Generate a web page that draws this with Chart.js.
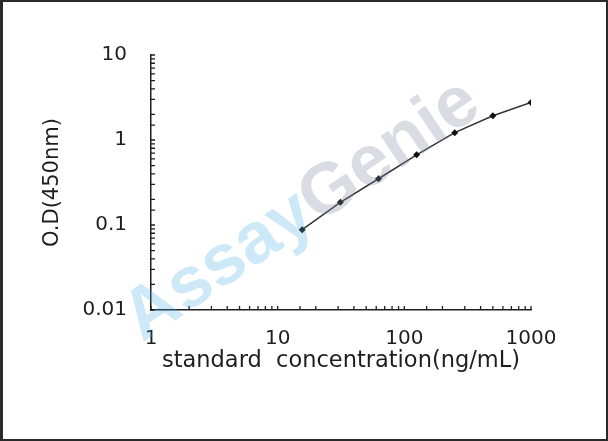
<!DOCTYPE html>
<html><head><meta charset="utf-8">
<script src="https://cdn.jsdelivr.net/npm/chart.js@4.4.0/dist/chart.umd.min.js"></script>
<style>html,body{margin:0;padding:0;background:#fff;overflow:hidden}canvas{display:block}</style>
</head><body>
<canvas id="c" width="608" height="441"></canvas>
<script>
const concentrations = [15.625, 31.25, 62.5, 125, 250, 500, 1000];
const odValues = [0.088, 0.185, 0.35, 0.67, 1.22, 1.93, 2.77];
const xTickLabels = [1, 10, 100, 1000];
const yTickLabels = [0.01, 0.1, 1, 10];
const xTitle = 'standard  concentration(ng/mL)';
const yTitle = 'O.D(450nm)';
const watermarkParts = ['Assay', 'Genie'];

const points = concentrations.map((c, i) => ({x: c, y: odValues[i]}));
const ink = '#1e1e1e';
const fam = "'DejaVu Sans', sans-serif";

function labelFor(list) {
  return function(value) {
    const hit = list.find(v => Math.abs(v - value) / v < 1e-6);
    return hit === undefined ? '' : String(hit);
  };
}

const inwardTicks = {
  id: 'inwardTicks',
  afterDatasetsDraw(chart) {
    const ctx = chart.ctx, a = chart.chartArea;
    const xs = chart.scales.x, ys = chart.scales.y;
    ctx.save();
    ctx.strokeStyle = ink;
    ctx.lineWidth = 1.3;
    ctx.beginPath();
    xs.ticks.forEach(t => {
      const px = xs.getPixelForValue(t.value);
      ctx.moveTo(px, a.bottom);
      ctx.lineTo(px, a.bottom - 4);
    });
    ys.ticks.forEach(t => {
      const py = ys.getPixelForValue(t.value);
      ctx.moveTo(a.left, py);
      ctx.lineTo(a.left + 4, py);
    });
    ctx.stroke();
    ctx.restore();
  }
};

const watermark = {
  id: 'watermark',
  afterDraw(chart) {
    const ctx = chart.ctx;
    ctx.save();
    ctx.translate(302, 211);
    ctx.rotate(-34 * Math.PI / 180);
    ctx.font = "bold 72px 'Liberation Sans', Arial, sans-serif";
    ctx.textBaseline = 'middle';
    ctx.textAlign = 'left';
    const w0 = ctx.measureText(watermarkParts[0]).width;
    const w1 = ctx.measureText(watermarkParts[1]).width;
    let x = -(w0 + w1) / 2;
    ctx.fillStyle = 'rgba(70,175,225,0.27)';
    ctx.fillText(watermarkParts[0], x, 0);
    ctx.fillStyle = 'rgba(130,140,158,0.3)';
    ctx.fillText(watermarkParts[1], x + w0, 0);
    ctx.restore();
  }
};

const frame = {
  id: 'frame',
  afterDraw(chart) {
    const ctx = chart.ctx, W = chart.width, H = chart.height;
    ctx.save();
    ctx.fillStyle = '#2a2a2a';
    ctx.fillRect(0, 0, 3, H);
    ctx.fillRect(0, 0, W, 2);
    ctx.fillRect(W - 2, 0, 2, H);
    ctx.fillRect(0, H - 2, W, 2);
    ctx.restore();
  }
};

new Chart(document.getElementById('c'), {
  type: 'line',
  data: {
    datasets: [{
      data: points,
      borderColor: '#333',
      borderWidth: 1.5,
      pointStyle: 'rectRot',
      pointRadius: 3.5,
      pointBackgroundColor: '#111',
      pointBorderColor: '#111',
      pointBorderWidth: 0,
      tension: 0,
      fill: false
    }]
  },
  options: {
    responsive: false,
    animation: false,
    events: [],
    layout: {padding: {left: 20, right: 77, top: 55, bottom: 51}},
    plugins: {legend: {display: false}, tooltip: {enabled: false}},
    scales: {
      x: {
        type: 'logarithmic', position: 'bottom', min: 1, max: 1000,
        grid: {display: false, drawTicks: false},
        border: {display: true, color: ink, width: 1.5},
        ticks: {autoSkip: false, maxRotation: 0, padding: 17, color: ink,
                font: {family: fam, size: 20}, callback: labelFor(xTickLabels)},
        title: {display: true, text: xTitle, color: ink,
                font: {family: fam, size: 22.5}, padding: {top: 0, bottom: 15}},
        afterFit(s) { s.height = 80; }
      },
      y: {
        type: 'logarithmic', position: 'left', min: 0.01, max: 10,
        grid: {display: false, drawTicks: false},
        border: {display: true, color: ink, width: 1.5},
        ticks: {autoSkip: false, padding: 24, color: ink,
                font: {family: fam, size: 20}, callback: labelFor(yTickLabels)},
        title: {display: true, text: yTitle, color: ink,
                font: {family: fam, size: 21}, padding: {top: 20, bottom: 0}},
        afterFit(s) { s.width = 131; }
      }
    }
  },
  plugins: [inwardTicks, watermark, frame]
});
</script>
</body></html>
